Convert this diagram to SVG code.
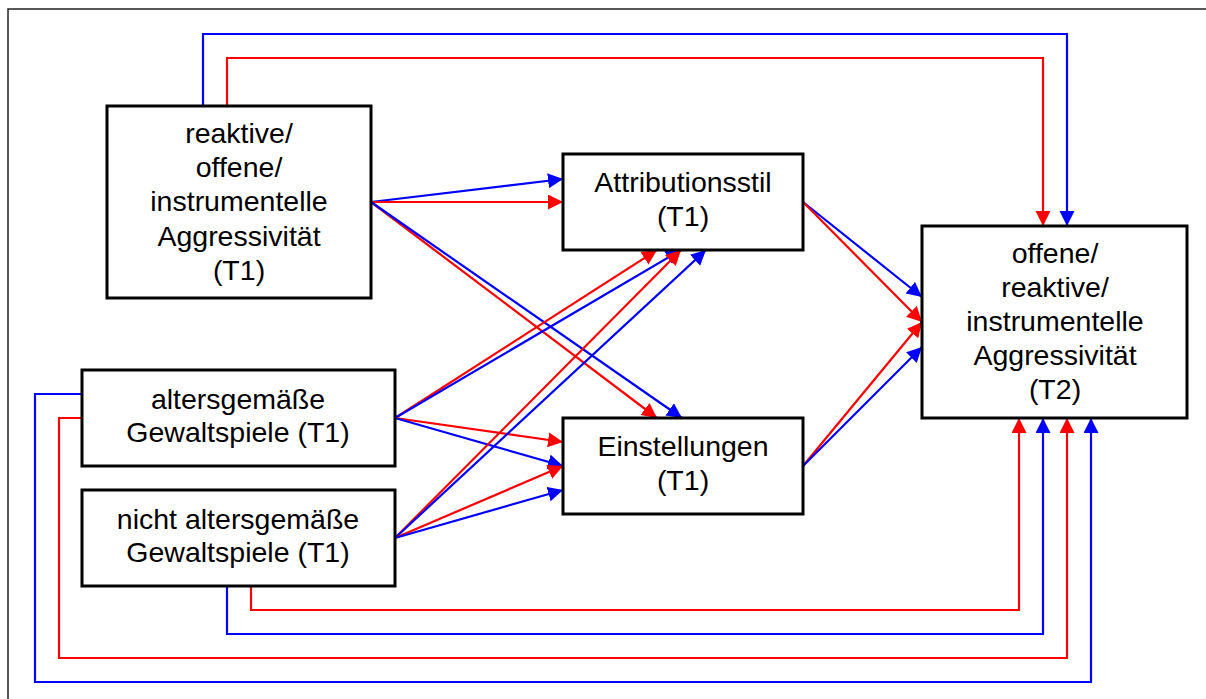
<svg xmlns="http://www.w3.org/2000/svg" width="1206" height="699" viewBox="0 0 1206 699">
<style>
.box{fill:#fff;stroke:#000;stroke-width:3}
.t{font-family:"Liberation Sans",Arial,sans-serif;font-size:28.5px;fill:#000;text-anchor:middle}
.r{fill:none;stroke:#f00;stroke-width:2.2}
.b{fill:none;stroke:#00f;stroke-width:2.2}
.ra{marker-end:url(#mr)}
.ba{marker-end:url(#mb)}
</style>
<defs>
<marker id="mr" markerUnits="userSpaceOnUse" markerWidth="16" markerHeight="16" refX="15" refY="7.5" orient="auto" viewBox="0 0 16 16"><path d="M0,0 L15,7.5 L0,15 z" fill="#f00"/></marker>
<marker id="mb" markerUnits="userSpaceOnUse" markerWidth="16" markerHeight="16" refX="15" refY="7.5" orient="auto" viewBox="0 0 16 16"><path d="M0,0 L15,7.5 L0,15 z" fill="#00f"/></marker>
</defs>
<rect x="0" y="0" width="1206" height="699" fill="#fff"/>
<rect x="8" y="9" width="1220" height="720" fill="none" stroke="#222" stroke-width="1.5"/>
<g id="connectors">
<polyline class="b ba" points="203,106 203,34 1067,34 1067,226"/>
<polyline class="r ra" points="227,106 227,58 1043,58 1043,226"/>
<line class="b ba" x1="371" y1="202" x2="563" y2="179"/>
<line class="r ra" x1="371" y1="202" x2="563" y2="202"/>
<line class="r ra" x1="371" y1="202" x2="657" y2="418"/>
<line class="b ba" x1="371" y1="202" x2="682" y2="418"/>
<line class="r ra" x1="395" y1="418" x2="657" y2="250"/>
<line class="b ba" x1="395" y1="418" x2="681" y2="250"/>
<line class="r ra" x1="395" y1="418" x2="563" y2="442"/>
<line class="b ba" x1="395" y1="418" x2="563" y2="466"/>
<line class="r ra" x1="395" y1="538" x2="681" y2="250"/>
<line class="b ba" x1="395" y1="538" x2="706" y2="250"/>
<line class="r ra" x1="395" y1="538" x2="563" y2="466"/>
<line class="b ba" x1="395" y1="538" x2="563" y2="490"/>
<line class="b ba" x1="803" y1="202" x2="922" y2="297"/>
<line class="r ra" x1="803" y1="202" x2="922" y2="322"/>
<line class="r ra" x1="803" y1="466" x2="922" y2="322"/>
<line class="b ba" x1="803" y1="466" x2="922" y2="347"/>
<polyline class="b ba" points="82,394 35,394 35,682 1091,682 1091,418"/>
<polyline class="r ra" points="82,418 59,418 59,658 1067,658 1067,418"/>
<polyline class="b ba" points="227,586 227,634 1043,634 1043,418"/>
<polyline class="r ra" points="251,586 251,610 1019,610 1019,418"/>
</g>
<g id="node-aggr-t1">
<rect class="box" x="107" y="106" width="264" height="192"/>
<text class="t" x="239" y="143">reaktive/</text>
<text class="t" x="239" y="177">offene/</text>
<text class="t" x="239" y="211">instrumentelle</text>
<text class="t" x="239" y="246">Aggressivität</text>
<text class="t" x="239" y="280">(T1)</text>
</g>
<g id="node-attribution">
<rect class="box" x="563" y="154" width="240" height="96"/>
<text class="t" x="683" y="192">Attributionsstil</text>
<text class="t" x="683" y="226">(T1)</text>
</g>
<g id="node-einstellungen">
<rect class="box" x="563" y="418" width="240" height="96"/>
<text class="t" x="683" y="456">Einstellungen</text>
<text class="t" x="683" y="490">(T1)</text>
</g>
<g id="node-alters">
<rect class="box" x="82" y="370" width="313" height="96"/>
<text class="t" x="238" y="409">altersgemäße</text>
<text class="t" x="238" y="442">Gewaltspiele (T1)</text>
</g>
<g id="node-nicht-alters">
<rect class="box" x="82" y="490" width="313" height="96"/>
<text class="t" x="238" y="529">nicht altersgemäße</text>
<text class="t" x="238" y="562">Gewaltspiele (T1)</text>
</g>
<g id="node-aggr-t2">
<rect class="box" x="922" y="226" width="265" height="192"/>
<text class="t" x="1055" y="263">offene/</text>
<text class="t" x="1055" y="297">reaktive/</text>
<text class="t" x="1055" y="331">instrumentelle</text>
<text class="t" x="1055" y="365">Aggressivität</text>
<text class="t" x="1055" y="399">(T2)</text>
</g>
</svg>
